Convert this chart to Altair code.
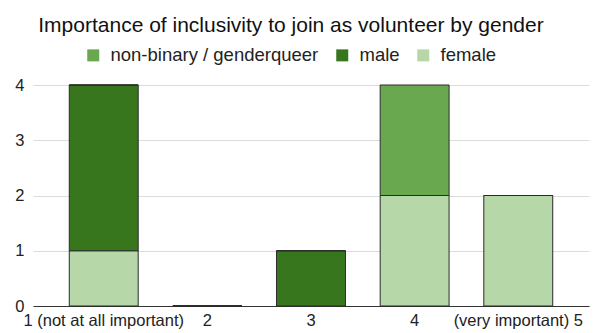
import altair as alt
import pandas as pd

# Survey answers: importance of inclusivity (1-5) split by gender
categories = ["1 (not at all important)", "2", "3", "4", "(very important) 5"]
female = [1, 0, 0, 2, 2]
male = [3, 0, 1, 0, 0]
nonbinary = [0, 0, 0, 2, 0]

series_names = ["non-binary / genderqueer", "male", "female"]
series_colors = ["#6aa84f", "#38761d", "#b6d7a8"]
stack_rank = {"female": 0, "male": 1, "non-binary / genderqueer": 2}

rows = []
for name, values in (("female", female), ("male", male),
                     ("non-binary / genderqueer", nonbinary)):
    for cat, v in zip(categories, values):
        rows.append({"answer": cat, "gender": name, "count": v,
                     "rank": stack_rank[name]})
df = pd.DataFrame(rows)

FONT = "Liberation Sans"

bars = alt.Chart(df).mark_bar(stroke="#2b2b2b", strokeWidth=1).encode(
    x=alt.X("answer:N", sort=categories, title=None,
            scale=alt.Scale(paddingInner=0.335, paddingOuter=0.35),
            axis=alt.Axis(labelAngle=0, labelFontSize=16.5, labelColor="#222",
                          labelFont=FONT, labelPadding=6, ticks=False,
                          domainColor="#333", domainWidth=1, grid=False)),
    y=alt.Y("count:Q", stack="zero", title=None,
            scale=alt.Scale(domain=[0, 4], nice=False),
            axis=alt.Axis(values=[0, 1, 2, 3, 4], format="d", domain=False,
                          ticks=False, labelFontSize=16.5, labelColor="#222",
                          labelFont=FONT, labelPadding=9,
                          gridColor="#dcdcdc", gridWidth=1)),
    color=alt.Color("gender:N",
                    scale=alt.Scale(domain=series_names, range=series_colors),
                    legend=alt.Legend(orient="none", direction="horizontal",
                                      title=None, legendX=51, legendY=-39,
                                      symbolType="square", symbolSize=144,
                                      symbolStrokeWidth=0, symbolOpacity=1,
                                      labelFontSize=18.5, labelFont=FONT,
                                      labelColor="#222", labelOffset=8,
                                      labelLimit=0, columnPadding=14)),
    order=alt.Order("rank:Q", sort="ascending"),
)

chart = bars.properties(
    width=556,
    height=221,
    title=alt.TitleParams(
        "Importance of inclusivity to join as volunteer by gender",
        font=FONT, fontSize=21, fontWeight="normal", color="#111",
        anchor="middle", frame="group", dx=-20, offset=10),
    padding={"left": 33, "top": 85, "right": 8, "bottom": 27},
    autosize=alt.AutoSizeParams(type="none"),
).configure_view(stroke=None)

chart.save("out.html", embed_options={"renderer": "svg", "actions": False})
